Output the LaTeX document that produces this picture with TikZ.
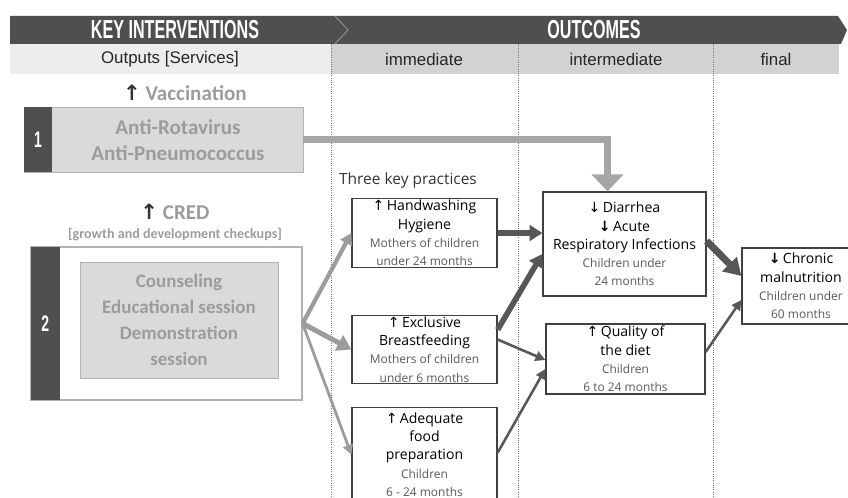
\documentclass[tikz,border=0pt]{standalone}
\usepackage{fontspec}
\setmainfont{Liberation Sans}
\newfontfamily\hdrfont[FakeStretch=0.62]{Liberation Sans}
\newfontfamily\calfont{Carlito}
\newfontfamily\comicfont{Open Sans}
\newfontfamily\symfont{DejaVu Sans}
\usetikzlibrary{arrows.meta, positioning, calc}
\definecolor{bardark}{HTML}{4F4F4F}
\definecolor{barlight}{HTML}{EDEDED}
\definecolor{barmid}{HTML}{D2D2D2}
\definecolor{servgray}{HTML}{9C9C9C}
\definecolor{servfill}{HTML}{DADADA}
\definecolor{linkdark}{HTML}{575757}
\newcommand{\up}{{\symfont ↑}}
\newcommand{\down}{{\symfont ↓}}
\newcommand{\subt}[1]{{\fontsize{8.5}{10.5}\selectfont\color{black!65}#1}}

\begin{document}
\begin{tikzpicture}[x=0.025cm, y=-0.025cm,
	outcome/.style={draw=black!75, line width=0.9pt, fill=white, align=center, inner sep=1pt, font=\comicfont\fontsize{10}{13}\selectfont},
	service/.style={draw=black!30, fill=servfill, text=servgray, align=center},
	numbox/.style={fill=bardark, text=white, anchor=west, font=\hdrfont\bfseries\fontsize{16}{16}\selectfont},
	coltitle/.style={text=black!85, font=\fontsize{12}{12}\selectfont},
	bartitle/.style={text=white, font=\hdrfont\bfseries\fontsize{18.5}{18.5}\selectfont},
	servtitle/.style={text=servgray, font=\calfont\bfseries\fontsize{15}{15}\selectfont},
	thinlink/.style={linkdark, line width=1.8pt, -{Triangle[length=7pt,width=7pt]}},
	thicklink/.style={linkdark, line width=4pt, -{Triangle[length=9pt,width=11pt]}},
	servlink/.style={servgray, line width=3pt, -{Triangle[length=8pt,width=9pt]}},
	servbig/.style={servgray, line width=3.6pt, -{Triangle[length=10pt,width=12pt]}},
	servthin/.style={servgray, line width=2pt, -{Triangle[length=7pt,width=7pt]}},
	vacclink/.style={servgray!90, line width=5pt, -{Triangle[length=12pt,width=22pt]}}]
	\useasboundingbox (0,0) rectangle (848,498);
	\fill[bardark] (10,16) -- (838,16) -- (847,30) -- (841,44) -- (10,44) -- cycle;
	\draw[white!40!bardark, line width=0.6pt] (335,16) -- (348,30) -- (335,44);
	\fill[barlight] (10,44) rectangle (331,74);
	\fill[barmid] (331,44) rectangle (839,74);
	\foreach \x in {331,518,713}
		\draw[black!55, densely dotted, line width=0.6pt] (\x,44) -- (\x,498);

	\node[bartitle] (keyint) at (175,30) {KEY INTERVENTIONS};
	\node[bartitle] (outc) at (594,30) {OUTCOMES};
	\node[coltitle] (outputs) at (170,59) {Outputs [Services]};
	\node[coltitle] (immed) at (424,59) {immediate};
	\node[coltitle] (interm) at (616,59) {intermediate};
	\node[coltitle] (final) at (776,59) {final};

	\node[servtitle] (vacc) at (185,93) {\textcolor{black!80}{\up} Vaccination};
	\node[service, minimum width=6.975cm, minimum height=1.625cm] (svc1) at (163.5,139.5) {};
	\node[numbox, minimum width=0.7cm, minimum height=1.625cm] (n1) at (svc1.west) {1};
	\node[servtitle, align=center, font=\calfont\bfseries\fontsize{15}{18.5}\selectfont] (svc1txt) at (178,140) {Anti-Rotavirus\\Anti-Pneumococcus};

	\node[servtitle] (cred) at (175,212) {\textcolor{black!80}{\up} CRED};
	\node[servtitle, font=\calfont\bfseries\fontsize{10}{10}\selectfont] (credsub) at (175,235) {[growth and development checkups]};
	\node[draw=black!30, fill=white, line width=0.8pt, minimum width=6.775cm, minimum height=3.825cm] (svc2) at (166.5,323.5) {};
	\node[numbox, minimum width=0.725cm, minimum height=3.825cm] (n2) at (svc2.west) {2};
	\node[service, minimum width=4.95cm, minimum height=2.9cm, font=\calfont\bfseries\fontsize{13.5}{18.5}\selectfont] (couns) at (179,320) {Counseling\\Educational session\\Demonstration\\session};

	\node[text=black!80, font=\comicfont\fontsize{11}{11}\selectfont] (three) at (408,180) {Three key practices};
	\node[outcome, minimum width=3.625cm, minimum height=1.65cm] (hand) at (424.5,233) {\up\,Handwashing\\Hygiene\\\subt{Mothers of children}\\\subt{under 24 months}};
	\node[outcome, minimum width=3.625cm, minimum height=1.675cm] (breast) at (424.5,349.5) {\up\,Exclusive\\Breastfeeding\\\subt{Mothers of children}\\\subt{under 6 months}};
	\node[outcome, minimum width=3.625cm, minimum height=2.35cm, anchor=north] (food) at (424.5,407) {\up\,Adequate\\food\\preparation\\\subt{Children}\\\subt{6 - 24 months}};
	\node[outcome, minimum width=4.075cm, minimum height=2.6cm] (diarr) at (624.5,244) {\down\,Diarrhea\\{\symfont\bfseries ↓}\,Acute\\Respiratory Infections\\\subt{Children under}\\\subt{24 months}};
	\node[outcome, minimum width=3.975cm, minimum height=1.75cm] (diet) at (625.5,359) {\up\,Quality of\\the diet\\\subt{Children}\\\subt{6 to 24 months}};
	\node[outcome, minimum width=2.95cm, minimum height=1.9cm] (chronic) at (801,286) {{\symfont\bfseries ↓}\,Chronic\\malnutrition\\\subt{Children under}\\\subt{60 months}};

	\draw[vacclink] (svc1.east) -| ($(diarr.north)+(-17,0)$);
	\foreach \to/\sty in {hand/servlink, breast/servbig, food/servthin}
		\draw[\sty] (svc2.east) -- (\to.west);
	\draw[thicklink] (hand.east) -- (hand.east -| diarr.west);
	\draw[thicklink] ($(breast.north east)+(0,15)$) -- ($(diarr.west)+(0,10)$);
	\draw[thinlink] ($(breast.east)+(0,-10)$) -- ($(diet.west)+(0,1)$);
	\draw[thinlink] ($(food.east)+(0,-2)$) -- ($(diet.west)+(0,10)$);
	\draw[thicklink, line width=5pt, -{Triangle[length=12pt,width=14pt]}] ($(diarr.east)+(0,-3)$) -- ($(chronic.west)+(0,-10)$);
	\draw[thinlink] ($(diet.east)+(0,-7)$) -- ($(chronic.west)+(0,14)$);
\end{tikzpicture}
\end{document}
